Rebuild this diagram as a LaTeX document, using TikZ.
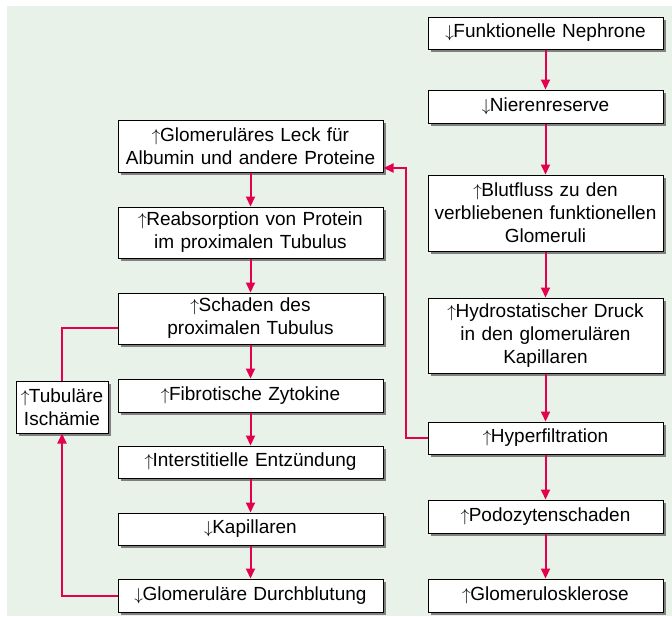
\documentclass[tikz,border=0pt]{standalone}
\usepackage{fontspec}
\setmainfont{Liberation Sans}
\usetikzlibrary{arrows.meta,shadows}
\definecolor{bggreen}{HTML}{E8F2E9}
\definecolor{linkred}{HTML}{E2004F}
\newcommand\arrup{$\uparrow$\kern-0.5pt}
\newcommand\arrdn{$\downarrow$\kern-0.5pt}
\begin{document}
\begin{tikzpicture}[x=1pt,y=-1pt,
  box/.style={draw=black, line width=1pt, fill=white, inner sep=0pt, align=center,
    font=\fontsize{19}{23}\selectfont,
    drop shadow={shadow xshift=2.5pt, shadow yshift=-2.5pt, fill=black!50, opacity=1}},
  rbox/.style={box, minimum width=235pt, text width=231pt},
  lbox/.style={box, minimum width=265pt, text width=261pt},
  link/.style={draw=linkred, line width=2pt},
  flow/.style={link, -{Triangle[length=10pt,width=9pt]}}
]
\useasboundingbox (0,0) rectangle (672,616);
\fill[bggreen] (7,6) rectangle (672,616);

% right column
\node[rbox, minimum height=32pt] (n1) at (545.5,33) {\arrdn Funktionelle Nephrone};
\node[rbox, minimum height=33pt] (n2) at (545.5,106.5) {\arrdn Nierenreserve};
\node[rbox, minimum height=76pt] (n3) at (545.5,213) {\arrup Blutfluss zu den\\verbliebenen funktionellen\\Glomeruli};
\node[rbox, minimum height=75pt] (n4) at (545.5,335.5) {\arrup Hydrostatischer Druck\\in den glomerulären\\Kapillaren};
\node[rbox, minimum height=32pt] (n5) at (545.5,438) {\arrup Hyperfiltration};
\node[rbox, minimum height=33pt] (n6) at (545.5,516.5) {\arrup Podozytenschaden};
\node[rbox, minimum height=33pt] (n7) at (545.5,595.5) {\arrup Glomerulosklerose};

% left column
\node[lbox, minimum height=52pt] (l1) at (250.5,146) {\arrup Glomeruläres Leck für\\Albumin und andere Proteine};
\node[lbox, minimum height=51pt] (l2) at (250.5,232.5) {\arrup Reabsorption von Protein\\im proximalen Tubulus};
\node[lbox, minimum height=51pt] (l3) at (250.5,318.5) {\arrup Schaden des\\proximalen Tubulus};
\node[lbox, minimum height=33pt] (l4) at (250.5,395.5) {\arrup Fibrotische Zytokine};
\node[lbox, minimum height=32pt] (l5) at (250.5,462) {\arrup Interstitielle Entzündung};
\node[lbox, minimum height=32pt] (l6) at (250.5,529) {\arrdn Kapillaren};
\node[lbox, minimum height=33pt] (l7) at (250.5,595.5) {\arrdn Glomeruläre Durchblutung};

\node[box, minimum width=92pt, minimum height=52pt, text width=90pt] (t) at (62,407) {\arrup Tubuläre\\Ischämie};

% vertical flows
\draw[flow] (n1) -- (n2);
\draw[flow] (n2) -- (n3);
\draw[flow] (n3) -- (n4);
\draw[flow] (n4) -- (n5);
\draw[flow] (n5) -- (n6);
\draw[flow] (n6) -- (n7);
\draw[flow] (l1) -- (l2);
\draw[flow] (l2) -- (l3);
\draw[flow] (l3) -- (l4);
\draw[flow] (l4) -- (l5);
\draw[flow] (l5) -- (l6);
\draw[flow] (l6) -- (l7);

% feedback connectors
\coordinate (hv) at (406,168);
\draw[flow] (n5.west) -| (hv) -- (hv -| l1.east);
\coordinate (sv) at (63,328);
\draw[link] (sv -| l3.west) -| (t.north);
\draw[flow] (l7.west) -| (t.south);
\end{tikzpicture}
\end{document}
